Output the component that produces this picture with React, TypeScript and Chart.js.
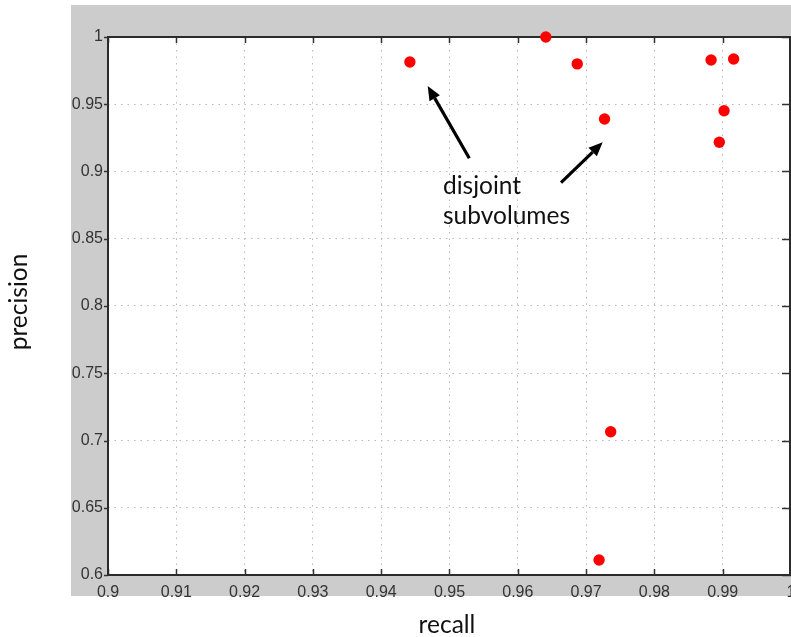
import React, { useEffect, useRef } from "react";
import { Chart, registerables } from "chart.js";

Chart.register(...registerables);

const recallValues = [0.9442, 0.9641, 0.9687, 0.9727, 0.9883, 0.9916, 0.9902, 0.9895, 0.9736, 0.9719];
const precisionValues = [0.9814, 1.0, 0.98, 0.939, 0.9829, 0.9836, 0.9452, 0.9217, 0.7065, 0.6112];

const xTickValues = [0.9, 0.91, 0.92, 0.93, 0.94, 0.95, 0.96, 0.97, 0.98, 0.99, 1.0];
const xTickLabels = ["0.9", "0.91", "0.92", "0.93", "0.94", "0.95", "0.96", "0.97", "0.98", "0.99", "1"];
const yTickValues = [0.6, 0.65, 0.7, 0.75, 0.8, 0.85, 0.9, 0.95, 1.0];
const yTickLabels = ["0.6", "0.65", "0.7", "0.75", "0.8", "0.85", "0.9", "0.95", "1"];

// annotation arrows: [x, y] in data units
const arrowTails = [
  [0.9529, 0.9098],
  [0.96633, 0.89167],
];
const arrowHeads = [
  [0.94681, 0.96357],
  [0.97243, 0.92171],
];
const annotationLines = ["disjoint", "subvolumes"];
const annotationAnchor = [0.94905, 0.88327];

const xTitle = "recall";
const yTitle = "precision";

const TEXT_FONT = "24.5px Lato";

const decorPlugin = {
  id: "decor",
  beforeDraw(chart: any) {
    const { ctx, chartArea: a, width, height } = chart;
    ctx.save();
    ctx.fillStyle = "#ffffff";
    ctx.fillRect(0, 0, width, height);
    ctx.fillStyle = "#cccccc";
    ctx.fillRect(71, 5, width - 71, 596 - 5);
    ctx.fillStyle = "#ffffff";
    ctx.fillRect(a.left, a.top, a.right - a.left, a.bottom - a.top);
    ctx.restore();
  },
  beforeDatasetsDraw(chart: any) {
    const { ctx, chartArea: a } = chart;
    const xs = chart.scales.x;
    const ys = chart.scales.y;
    ctx.save();
    ctx.strokeStyle = "#333333";
    ctx.lineWidth = 1.5;
    const tl = 6;
    ctx.beginPath();
    xTickValues.forEach((v) => {
      const px = Math.round(xs.getPixelForValue(v)) + 0.5;
      ctx.moveTo(px, a.bottom);
      ctx.lineTo(px, a.bottom - tl);
      ctx.moveTo(px, a.top);
      ctx.lineTo(px, a.top + tl);
    });
    yTickValues.forEach((v) => {
      const py = Math.round(ys.getPixelForValue(v)) + 0.5;
      ctx.moveTo(a.left - 4, py);
      ctx.lineTo(a.left, py);
      ctx.moveTo(a.right, py);
      ctx.lineTo(a.right - tl - 3, py);
    });
    ctx.stroke();
    ctx.lineWidth = 2;
    ctx.strokeStyle = "#2b2b2b";
    ctx.strokeRect(a.left, a.top, a.right - a.left - 1, a.bottom - a.top);
    ctx.restore();
  },
  afterDraw(chart: any) {
    const { ctx } = chart;
    const xs = chart.scales.x;
    const ys = chart.scales.y;
    ctx.save();
    ctx.strokeStyle = "#000000";
    ctx.fillStyle = "#000000";
    ctx.lineWidth = 3.2;
    arrowTails.forEach((t, i) => {
      const h = arrowHeads[i];
      const x1 = xs.getPixelForValue(t[0]);
      const y1 = ys.getPixelForValue(t[1]);
      const x2 = xs.getPixelForValue(h[0]);
      const y2 = ys.getPixelForValue(h[1]);
      const ang = Math.atan2(y2 - y1, x2 - x1);
      const hl = 14;
      const hw = 6;
      const bx = x2 - hl * Math.cos(ang);
      const by = y2 - hl * Math.sin(ang);
      ctx.beginPath();
      ctx.moveTo(x1, y1);
      ctx.lineTo(bx, by);
      ctx.stroke();
      ctx.beginPath();
      ctx.moveTo(x2, y2);
      ctx.lineTo(bx + hw * Math.sin(ang), by - hw * Math.cos(ang));
      ctx.lineTo(bx - hw * Math.sin(ang), by + hw * Math.cos(ang));
      ctx.closePath();
      ctx.fill();
    });
    ctx.font = TEXT_FONT;
    ctx.fillStyle = "#111111";
    ctx.textAlign = "left";
    ctx.textBaseline = "alphabetic";
    const ax = xs.getPixelForValue(annotationAnchor[0]);
    const ay = ys.getPixelForValue(annotationAnchor[1]);
    annotationLines.forEach((line, i) => {
      ctx.fillText(line, ax, ay + i * 29.5);
    });
    ctx.textAlign = "center";
    ctx.fillText(xTitle, 447, 633);
    ctx.translate(27, 302);
    ctx.rotate(-Math.PI / 2);
    ctx.fillText(yTitle, 0, 0);
    ctx.restore();
  },
};

export default function App() {
  const ref = useRef<HTMLCanvasElement | null>(null);
  useEffect(() => {
    document.body.style.margin = "0";
    const canvas = ref.current!;
    const chart = new Chart(canvas, {
      type: "scatter",
      data: {
        datasets: [
          {
            data: recallValues.map((x, i) => ({ x, y: precisionValues[i] })),
            backgroundColor: "#ff0000",
            borderWidth: 0,
            pointRadius: 5.7,
            pointHoverRadius: 5.7,
            clip: false as any,
          },
        ],
      },
      options: {
        animation: false,
        responsive: false,
        devicePixelRatio: 1,
        events: [],
        layout: { autoPadding: false, padding: { left: 0, right: 0, top: 37, bottom: 0 } },
        plugins: { legend: { display: false }, tooltip: { enabled: false } },
        scales: {
          x: {
            type: "linear",
            min: 0.9,
            max: 1.0,
            afterBuildTicks: (s: any) => {
              s.ticks = xTickValues.map((v) => ({ value: v }));
            },
            afterFit: (s: any) => {
              s.height = 62;
              s.paddingLeft = 0;
              s.paddingRight = 0;
            },
            ticks: {
              autoSkip: false,
              maxRotation: 0,
              minRotation: 0,
              padding: 8,
              color: "#333333",
              font: { family: "Liberation Sans", size: 16 },
              callback: (_v: any, i: number) => xTickLabels[i],
            },
            grid: { color: "#b8b8b8", lineWidth: 1, drawTicks: false },
            border: { display: false, dash: [1.5, 5] },
          },
          y: {
            type: "linear",
            min: 0.6,
            max: 1.0,
            afterBuildTicks: (s: any) => {
              s.ticks = yTickValues.map((v) => ({ value: v }));
            },
            afterFit: (s: any) => {
              s.width = 108;
              s.paddingTop = 0;
              s.paddingBottom = 0;
            },
            ticks: {
              autoSkip: false,
              padding: 5,
              color: "#333333",
              font: { family: "Liberation Sans", size: 16 },
              callback: (_v: any, i: number) => yTickLabels[i],
            },
            grid: { color: "#b8b8b8", lineWidth: 1, drawTicks: false },
            border: { display: false, dash: [1.5, 5] },
          },
        },
      } as any,
      plugins: [decorPlugin],
    });
    return () => chart.destroy();
  }, []);
  return (
    <div style={{ width: 791, height: 637 }}>
      <canvas ref={ref} width={791} height={637} style={{ display: "block" }} />
    </div>
  );
}
